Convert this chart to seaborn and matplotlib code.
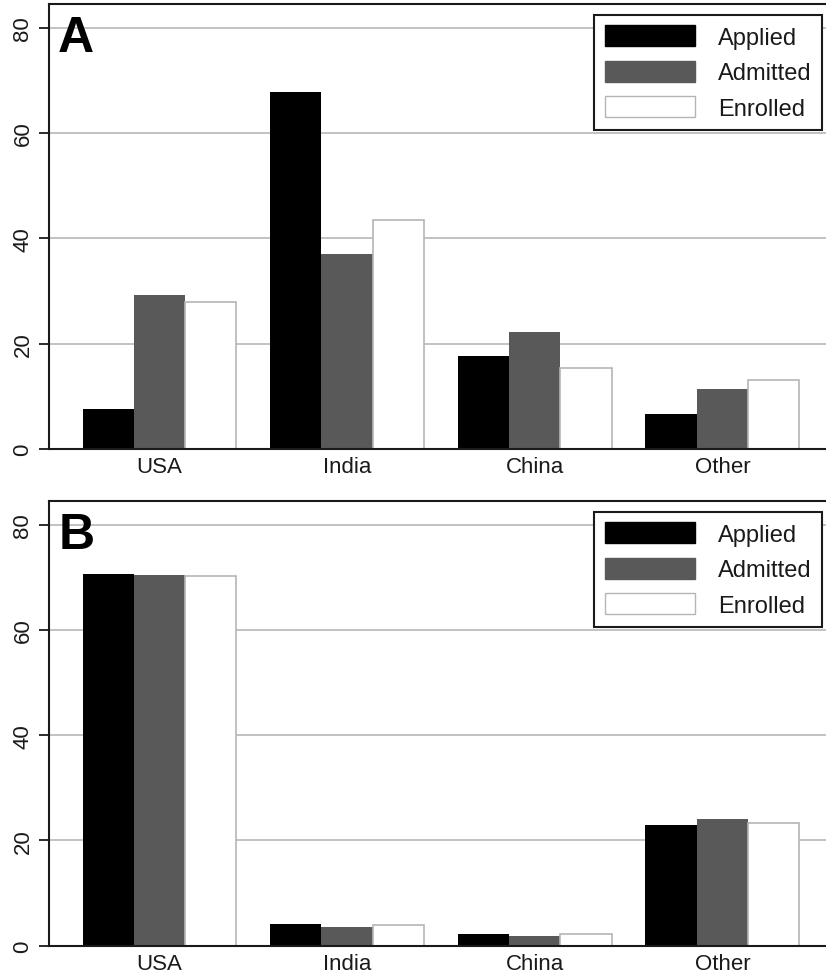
"""Applicants, admits and enrollees by origin (two panels)."""

import matplotlib.pyplot as plt
import pandas as pd
import seaborn as sns
from matplotlib.patches import Patch

regions = ["USA", "India", "China", "Other"]
statuses = ["Applied", "Admitted", "Enrolled"]

# panel A
a_applied = [7.5, 67.7, 17.6, 6.7]
a_admitted = [29.2, 37.1, 22.2, 11.3]
a_enrolled = [27.9, 43.5, 15.3, 13.1]

# panel B
b_applied = [70.6, 4.1, 2.2, 22.9]
b_admitted = [70.5, 3.5, 1.9, 24.0]
b_enrolled = [70.3, 3.9, 2.3, 23.3]

colors = ["#000000", "#595959", "#ffffff"]
edge_light = "#b5b5b5"
dark = "#1a1a1a"


def make_df(applied, admitted, enrolled):
    rows = []
    for status, vals in zip(statuses, [applied, admitted, enrolled]):
        for region, v in zip(regions, vals):
            rows.append({"region": region, "status": status, "pct": v})
    return pd.DataFrame(rows)


def draw_panel(ax, df, letter):
    sns.barplot(
        data=df,
        x="region",
        y="pct",
        hue="status",
        order=regions,
        hue_order=statuses,
        palette=colors,
        saturation=1,
        width=0.82,
        linewidth=0,
        legend=False,
        ax=ax,
    )
    for bar in ax.containers[2]:
        bar.set_edgecolor(edge_light)
        bar.set_linewidth(1.2)

    ax.set_ylim(0, 84.5)
    ax.set_xlim(-0.59, 3.59)
    ax.set_yticks([0, 20, 40, 60, 80])
    ax.yaxis.grid(True, color="#bdbdbd", linewidth=1.3)
    ax.set_axisbelow(True)
    ax.set(xlabel="", ylabel="")
    for lab in ax.get_yticklabels():
        lab.set_rotation(90)
        lab.set_va("center")
    ax.tick_params(axis="y", left=True, length=7, width=1.3, labelsize=16, pad=4,
                   color=dark, labelcolor=dark)
    ax.tick_params(axis="x", length=0, labelsize=16, pad=5, labelcolor=dark)
    for side in ["left", "top", "bottom"]:
        ax.spines[side].set_color(dark)
        ax.spines[side].set_linewidth(1.5)
    ax.spines["right"].set_visible(False)

    ax.text(0.012, 0.975, letter, transform=ax.transAxes, fontsize=36,
            fontweight="bold", va="top", ha="left", color="black")

    handles = [
        Patch(facecolor=colors[0], edgecolor=colors[0]),
        Patch(facecolor=colors[1], edgecolor=colors[1]),
        Patch(facecolor=colors[2], edgecolor=edge_light),
    ]
    leg = ax.legend(
        handles, statuses, loc="upper right", fontsize=17,
        handlelength=3.8, handleheight=1.0, labelspacing=0.5,
        handletextpad=1.0, borderpad=0.45, borderaxespad=0.45,
        fancybox=False, framealpha=1, edgecolor=dark,
    )
    leg.get_frame().set_linewidth(1.5)
    for t in leg.get_texts():
        t.set_color(dark)


sns.set_theme(style="white")
plt.rcParams["font.family"] = ["Liberation Sans", "DejaVu Sans"]

fig = plt.figure(figsize=(8.26, 9.79), dpi=100)
ax_a = fig.add_axes([0.059, 0.5404, 1.0085 - 0.059, 0.4545])
ax_b = fig.add_axes([0.059, 0.033, 1.0085 - 0.059, 0.4542])

draw_panel(ax_a, make_df(a_applied, a_admitted, a_enrolled), "A")
draw_panel(ax_b, make_df(b_applied, b_admitted, b_enrolled), "B")

fig.savefig("out.png", dpi=100)
plt.close(fig)
